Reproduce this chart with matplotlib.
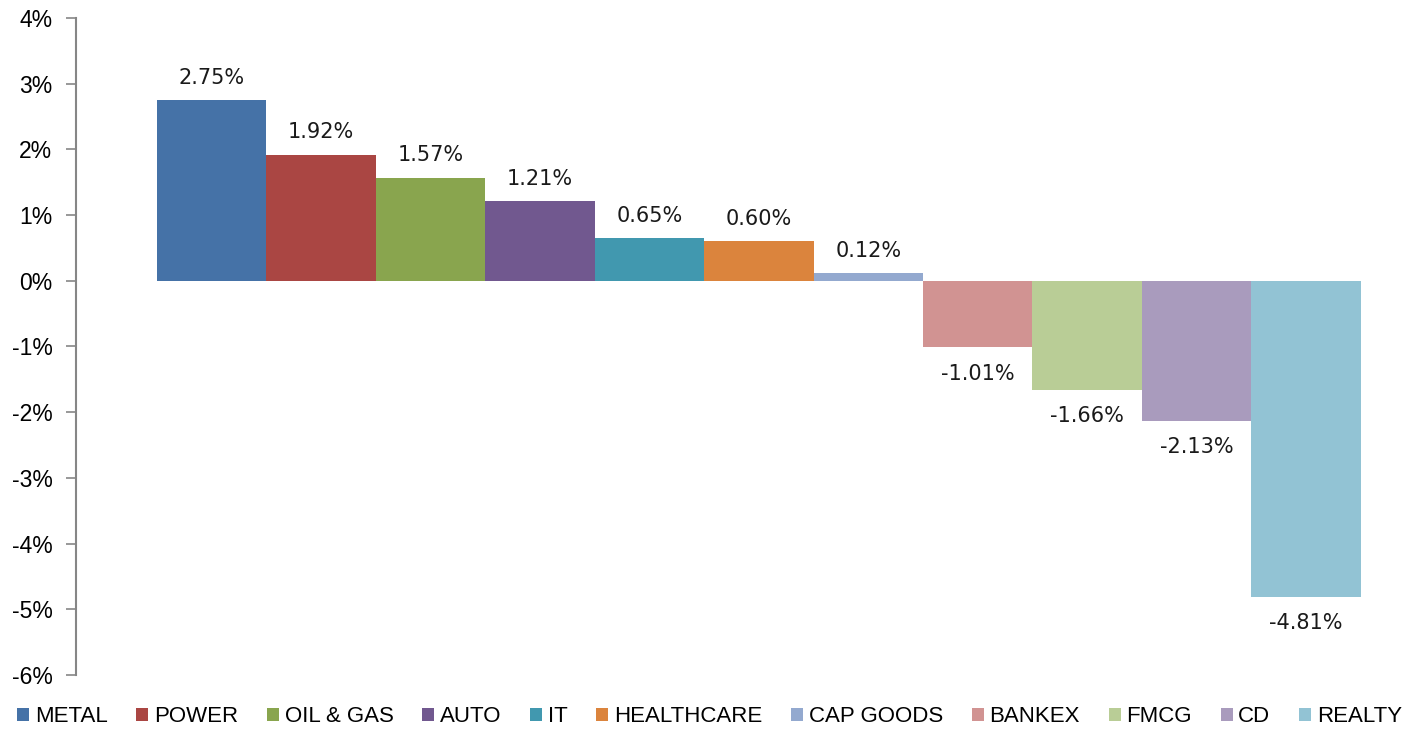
import matplotlib.pyplot as plt
from matplotlib.patches import Patch

# sector returns (%)
sectors = ['METAL', 'POWER', 'OIL & GAS', 'AUTO', 'IT', 'HEALTHCARE',
           'CAP GOODS', 'BANKEX', 'FMCG', 'CD', 'REALTY']
returns = [2.75, 1.92, 1.57, 1.21, 0.65, 0.60, 0.12, -1.01, -1.66, -2.13, -4.81]
colors = ['#4572A7', '#AA4643', '#89A54E', '#71588F', '#4198AF', '#DB843D',
          '#93A9CF', '#D19392', '#B9CD96', '#A99BBD', '#92C3D4']
yticks = list(range(-6, 5))

fig = plt.figure(figsize=(14.19, 7.29), dpi=100)
ax = fig.add_axes([76 / 1419, 1 - 675 / 729, (1400 - 76) / 1419, (675 - 18) / 729])

x = list(range(len(sectors)))
ax.bar(x, returns, width=1.0, color=colors, linewidth=0)

# data labels
for xi, v in zip(x, returns):
    off = 16 if v >= 0 else -19
    ax.annotate(f'{v:.2f}%', (xi, v), xytext=(0, off), textcoords='offset points',
                ha='center', va='center', fontsize=15, family='DejaVu Sans',
                color='#1a1a1a')

ax.set_ylim(-6, 4)
ax.set_xlim(-1.24, 10.86)
ax.set_yticks(yticks)
ax.set_yticklabels([f'{t}%' for t in yticks], fontsize=16.5, family='Liberation Sans')
ax.set_xticks([])
for s in ['top', 'right', 'bottom']:
    ax.spines[s].set_visible(False)
ax.spines['left'].set_color('#868686')
ax.spines['left'].set_linewidth(1.5)
ax.tick_params(axis='y', length=7, width=1.2, color='#868686', pad=10)

handles = [Patch(facecolor=c, label=s) for s, c in zip(sectors, colors)]
fig.legend(handles=handles, loc='center', bbox_to_anchor=(0.5, 1 - 717 / 729),
           ncol=11, frameon=False, handlelength=0.55, handleheight=0.55,
           handletextpad=0.25, columnspacing=1.29,
           prop={'family': 'Liberation Sans', 'size': 16})

fig.savefig('out.png', dpi=100)
